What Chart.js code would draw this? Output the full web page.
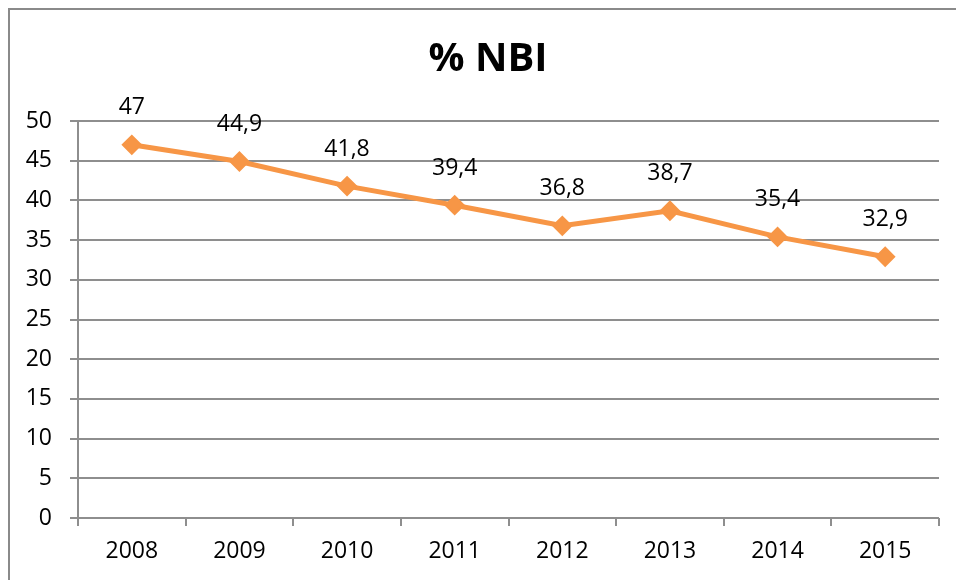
<!DOCTYPE html>
<html>
<head>
<meta charset="utf-8">
<script src="https://cdn.jsdelivr.net/npm/chart.js@4"></script>
<style>
  html, body { margin: 0; padding: 0; background: #fff; overflow: hidden; }
  #wrap { position: relative; width: 956px; height: 580px; }
  #frame { position: absolute; left: 8px; top: 8px; width: 1000px; height: 700px; border: 2px solid #8a8a8a; box-sizing: border-box; }
  canvas { position: absolute; left: 0; top: 0; }
</style>
</head>
<body>
<div id="wrap">
  <div id="frame"></div>
  <canvas id="nbi-chart" width="956" height="580"></canvas>
</div>
<script>
// ------- Data ---------------------------------------------------------------
const years     = ['2008', '2009', '2010', '2011', '2012', '2013', '2014', '2015'];
const nbiValues = [47, 44.9, 41.8, 39.4, 36.8, 38.7, 35.4, 32.9];
const chartTitle = '% NBI';

// ---------------------------------------------------------------------------
const FONT  = '"Open Sans", "DejaVu Sans", sans-serif';
const GRID  = '#8e8e8e';
const LINE  = '#f79646';

// title + value labels, drawn by hand like the Excel original
const labelsPlugin = {
  id: 'nbiLabels',
  afterDatasetsDraw (chart) {
    const ctx = chart.ctx;
    ctx.save();
    ctx.fillStyle = '#000';
    ctx.textAlign = 'center';
    ctx.textBaseline = 'middle';

    ctx.font = `bold 40px ${FONT}`;
    ctx.fillText(chartTitle, 488, 60);

    ctx.font = `23px ${FONT}`;
    const meta = chart.getDatasetMeta(0);
    meta.data.forEach((pt, i) => {
      const txt = String(nbiValues[i]).replace('.', ',');
      ctx.fillText(txt, pt.x, pt.y - 37);
    });
    ctx.restore();
  }
};

new Chart(document.getElementById('nbi-chart'), {
  type: 'line',
  data: {
    labels: years,
    datasets: [{
      data: nbiValues,
      borderColor: LINE,
      backgroundColor: LINE,
      borderWidth: 5,
      tension: 0,
      pointStyle: 'rectRot',
      pointRadius: 9,
      pointBorderWidth: 2,
      pointBorderColor: LINE,
      pointBackgroundColor: LINE
    }]
  },
  options: {
    responsive: false,
    animation: false,
    devicePixelRatio: 1,
    layout: { padding: { top: 121, right: 17, bottom: 0, left: 0 } },
    plugins: {
      legend: { display: false },
      tooltip: { enabled: false },
      title: { display: false }
    },
    scales: {
      x: {
        offset: true,
        grid: { offset: true, drawOnChartArea: false, color: GRID, lineWidth: 2, tickLength: 8 },
        border: { display: false },
        ticks: { color: '#000', font: { family: FONT, size: 23 }, padding: 12, maxRotation: 0 },
        afterFit (s) { s.height = 62; }
      },
      y: {
        min: 0,
        max: 50,
        ticks: { stepSize: 5, color: '#000', font: { family: FONT, size: 23 }, padding: 18 },
        grid: { color: GRID, lineWidth: 2, tickLength: 8 },
        border: { display: true, color: GRID, width: 2 },
        afterFit (s) { s.width = 78; }
      }
    }
  },
  plugins: [labelsPlugin]
});
</script>
</body>
</html>
